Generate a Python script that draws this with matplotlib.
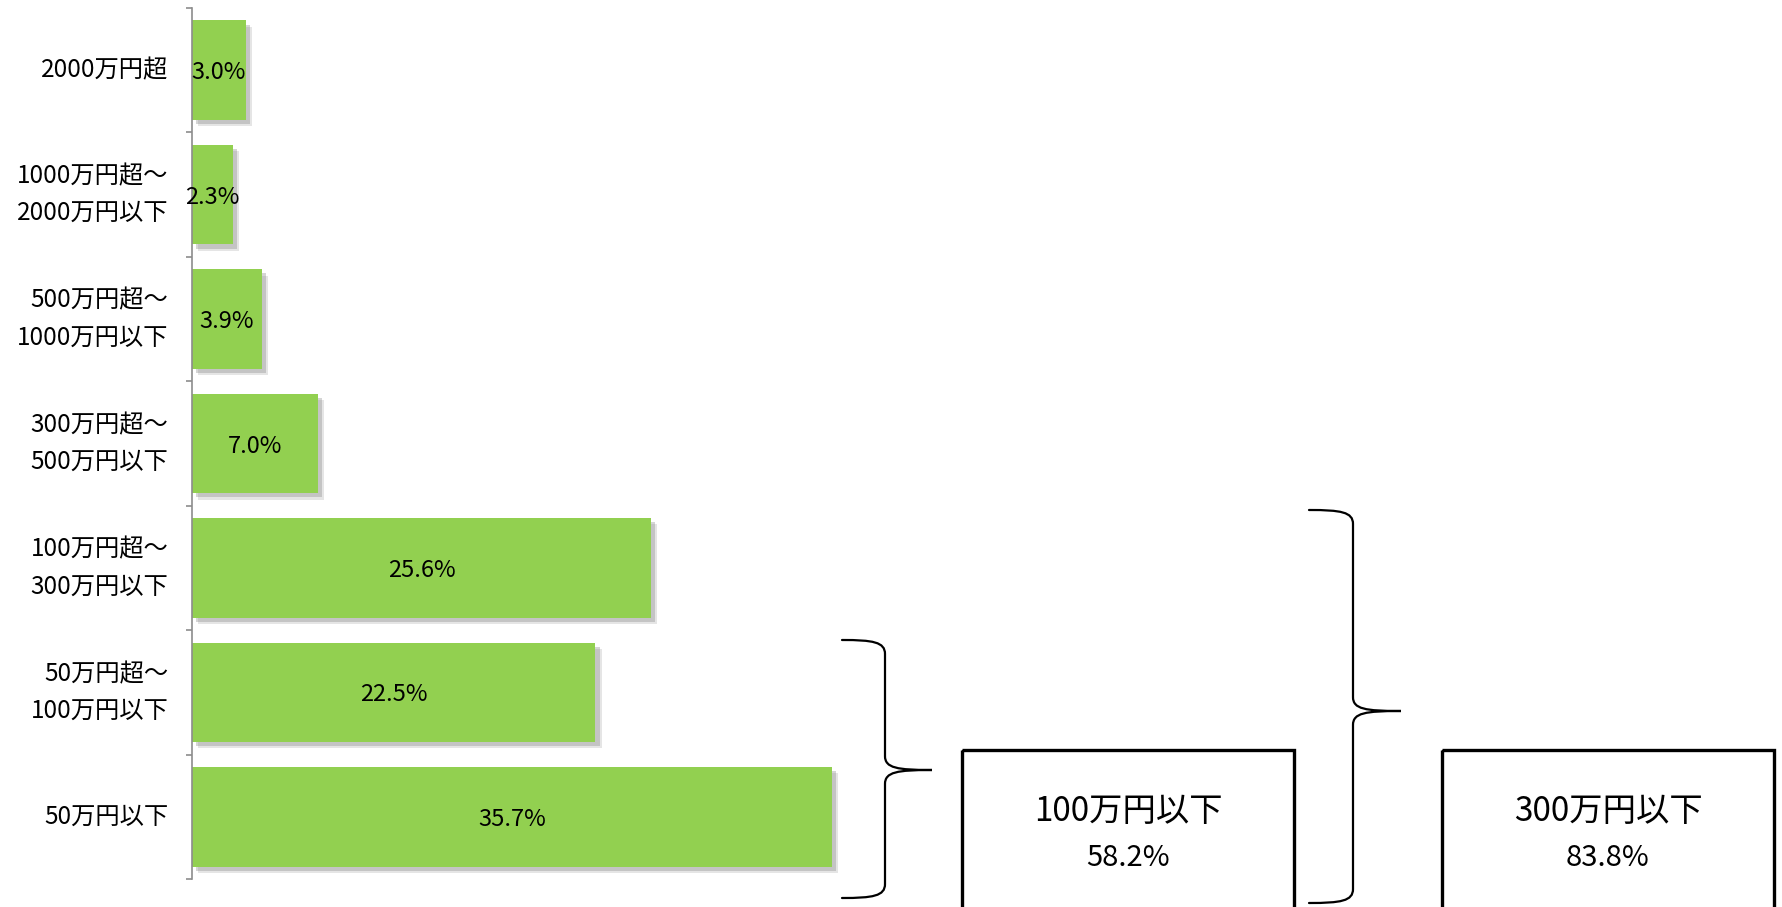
import numpy as np
import matplotlib.pyplot as plt
from matplotlib.path import Path
from matplotlib.patches import PathPatch, Rectangle
import matplotlib.patheffects as pe

plt.rcParams['font.family'] = ['Noto Sans CJK JP', 'DejaVu Sans']

# 所得区分ごとの割合 (下から上の順)
categories = ['50万円以下', '50万円超～\n100万円以下', '100万円超～\n300万円以下',
              '300万円超～\n500万円以下', '500万円超～\n1000万円以下',
              '1000万円超～\n2000万円以下', '2000万円超']
shares = [35.7, 22.5, 25.6, 7.0, 3.9, 2.3, 3.0]

# まとめ表示 (下位区分の合計)
group_labels = ['100万円以下', '300万円以下']
group_sizes = [2, 3]

W, H = 1783, 907
fig = plt.figure(figsize=(W / 100, H / 100), dpi=100)

ax = fig.add_axes([192 / W, (H - 879) / H, (W - 192) / W, (879 - 8) / H])
y = np.arange(len(categories))
shadow = [pe.SimplePatchShadow(offset=(4.5, -4.5), shadow_rgbFace='#999999', alpha=0.25),
          pe.SimplePatchShadow(offset=(3, -3), shadow_rgbFace='#888888', alpha=0.35),
          pe.Normal()]
bars = ax.barh(y, shares, height=0.8, color='#92D050', zorder=2)
for b in bars:
    b.set_path_effects(shadow)
for yi, v in zip(y, shares):
    ax.text(v / 2, yi, f'{v:.1f}%', ha='center', va='center_baseline',
            fontsize=17, zorder=3)

ax.set_xlim(0, (W - 192) / 17.93)
ax.set_ylim(-0.5, len(categories) - 0.5)
ax.set_yticks(y)
ax.set_yticklabels(categories, fontsize=17.5, linespacing=1.55, va='center')
ax.set_yticks(np.arange(len(categories) + 1) - 0.5, minor=True)
ax.tick_params(axis='y', which='major', length=0, pad=17)
ax.tick_params(axis='y', which='minor', length=4.5, width=1.2, color='#8c8c8c')
ax.set_xticks([])
for s in ['top', 'right', 'bottom']:
    ax.spines[s].set_visible(False)
ax.spines['left'].set_color('#8c8c8c')
ax.spines['left'].set_linewidth(1.2)

# 注記用のオーバーレイ (ピクセル座標)
ov = fig.add_axes([0, 0, 1, 1], zorder=5)
ov.set_xlim(0, W)
ov.set_ylim(H, 0)
ov.axis('off')


def brace(x0, xm, xt, ytop, ytip, ybot, r=14):
    verts = [(x0, ytop), (xm - 12, ytop), (xm, ytop + 2), (xm, ytop + r),
             (xm, ytip - r), (xm, ytip - 2), (xm + 12, ytip), (xt, ytip),
             (xm + 12, ytip), (xm, ytip + 2), (xm, ytip + r),
             (xm, ybot - r), (xm, ybot - 2), (xm - 12, ybot), (x0, ybot)]
    codes = [Path.MOVETO, Path.CURVE4, Path.CURVE4, Path.CURVE4,
             Path.LINETO, Path.CURVE4, Path.CURVE4, Path.CURVE4,
             Path.CURVE4, Path.CURVE4, Path.CURVE4,
             Path.LINETO, Path.CURVE4, Path.CURVE4, Path.CURVE4]
    ov.add_patch(PathPatch(Path(verts, codes), fill=False, lw=1.6,
                           edgecolor='black', capstyle='round'))


brace(842, 885, 932, 640, 770, 898)
brace(1309, 1353, 1401, 510, 711, 903)

boxes = [(962, 1294), (1442, 1774)]
for (bx0, bx1), lab, n in zip(boxes, group_labels, group_sizes):
    ov.add_patch(Rectangle((bx0, 750), bx1 - bx0, 200, fill=False,
                           lw=2.4, edgecolor='black'))
    total = sum(shares[:n])
    cx = (bx0 + bx1) / 2
    ov.text(cx, 812, lab, ha='center', va='center', fontsize=24)
    ov.text(cx, 858, f'{total:.1f}%', ha='center', va='center', fontsize=21)

fig.savefig('out.png', dpi=100, facecolor='white')
